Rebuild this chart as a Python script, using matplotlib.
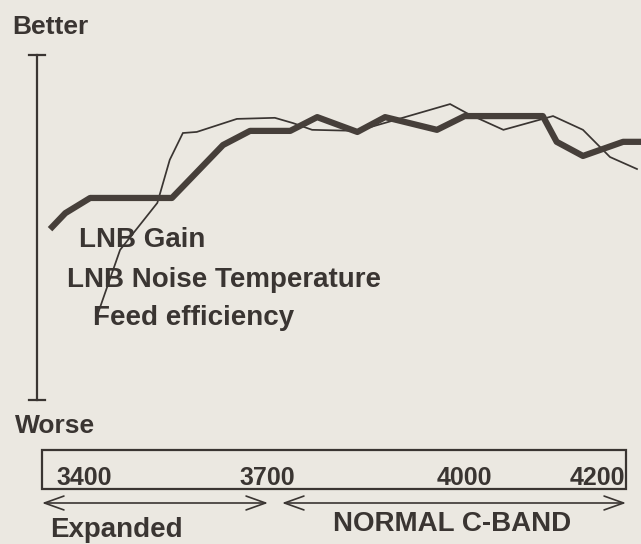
import matplotlib.pyplot as plt
from matplotlib.patches import Rectangle
from matplotlib.lines import Line2D

# frequency (MHz) and relative quality (0 = worse, 10 = better)
gain_freq = [3414, 3432, 3466, 3578, 3648, 3685, 3740, 3777, 3832, 3870,
             3941, 3979, 4086, 4105, 4141, 4196, 4220]
gain_level = [5.13, 5.52, 5.95, 5.95, 7.45, 7.85, 7.85, 8.24, 7.82, 8.24,
              7.88, 8.27, 8.27, 7.54, 7.14, 7.54, 7.54]

noise_freq = [3475, 3507, 3558, 3575, 3593, 3612, 3667, 3719, 3744, 3770,
              3832, 3959, 3984, 4032, 4100, 4141, 4178, 4215]
noise_level = [2.58, 4.48, 5.81, 7.03, 7.79, 7.82, 8.19, 8.22, 8.07, 7.88,
               7.85, 8.61, 8.33, 7.88, 8.27, 7.88, 7.11, 6.77]

series_labels = ["LNB Gain", "LNB Noise Temperature", "Feed efficiency"]
band_ticks = ["3400", "3700", "4000", "4200"]
band_names = ["Expanded", "NORMAL C-BAND"]

W, H = 641, 544
bg = "#ebe8e1"
ink = "#3a3532"
font = "Liberation Sans"


def px(x, y):
    # pixel position -> figure fraction
    return x / W, 1 - y / H


fig = plt.figure(figsize=(W / 100, H / 100), dpi=100, facecolor=bg)
ax = fig.add_axes([0, 0, 1, 1])
ax.set_facecolor(bg)
ax.set_xlim(3342.5, 4220.5)
ax.set_ylim(-3.853, 11.558)
ax.axis("off")

ax.plot(noise_freq, noise_level, color=ink, lw=1.25, solid_joinstyle="miter")
ax.plot(gain_freq, gain_level, color="#463f3a", lw=4.5, solid_joinstyle="round")

# vertical Better/Worse axis
for seg in [((37, 55), (37, 400)), ((29, 55), (45, 55)), ((29, 400), (45, 400))]:
    (x0, y0), (x1, y1) = px(*seg[0]), px(*seg[1])
    fig.add_artist(Line2D([x0, x1], [y0, y1], color=ink, lw=1.6))

txt = dict(family=font, weight="bold", color=ink, va="baseline")
fig.text(*px(12, 34), "Better", fontsize=19, **txt)
fig.text(*px(15, 433), "Worse", fontsize=19, **txt)

for (x, y), s in zip([(79, 247), (67, 287), (93, 325)], series_labels):
    fig.text(*px(x, y), s, fontsize=20, **txt)

# frequency box
bx0, by0 = px(42, 489)
bx1, by1 = px(626, 450)
fig.add_artist(Rectangle((bx0, by0), bx1 - bx0, by1 - by0, transform=fig.transFigure,
                         fill=False, ec=ink, lw=1.6))
for x, s in zip([56, 239, 437, 570], band_ticks):
    fig.text(*px(x, 485), s, fontsize=18, **txt)

# band arrows
for xa, xb in [(42, 268), (282, 626)]:
    ax.annotate("", xy=px(xb, 503), xytext=px(xa, 503), xycoords="figure fraction",
                arrowprops=dict(arrowstyle="<->,head_length=1.4,head_width=0.5",
                                color=ink, lw=1.2, shrinkA=0, shrinkB=0))

fig.text(*px(50, 537), band_names[0], fontsize=20, **txt)
fig.text(*px(333, 531), band_names[1], fontsize=20, **txt)

fig.savefig("out.png", dpi=100, facecolor=bg)
